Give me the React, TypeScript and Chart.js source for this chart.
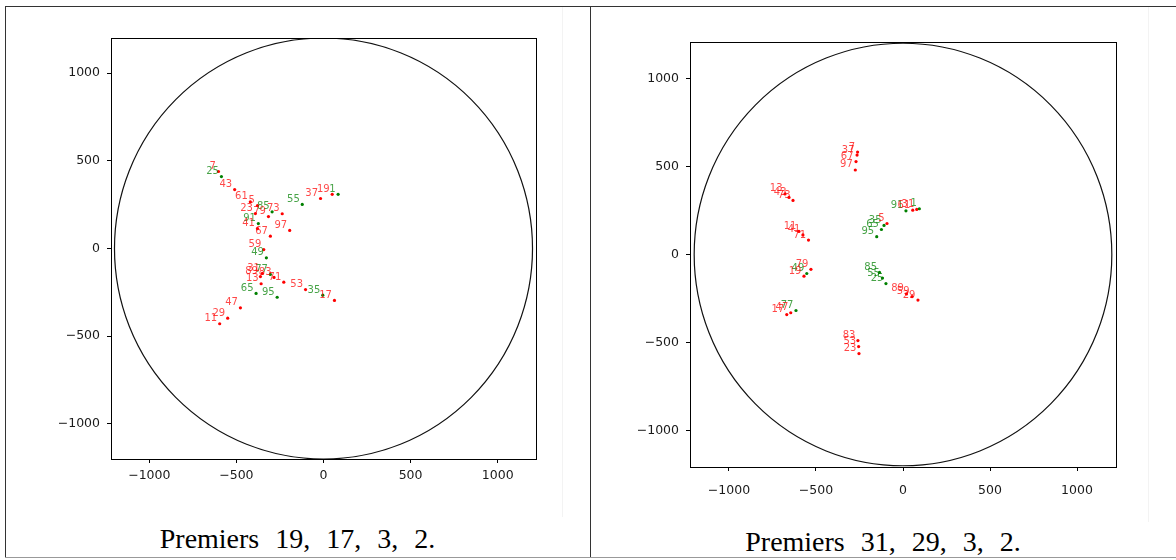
import React, { useEffect, useRef } from "react";
import { Chart, registerables } from "chart.js";

Chart.register(...registerables);

// ---------- shared ----------
const CIRCLE_RADIUS = 1200;
const tickValues = [-1000, -500, 0, 500, 1000];
const captionLeft = "Premiers 19, 17, 3, 2.";
const captionRight = "Premiers 31, 29, 3, 2.";

// ---------- left panel (primes 19, 17, 3, 2) ----------
const leftPrimeLabels = [5, 7, 11, 13, 17, 19, 23, 29, 31, 37, 41, 43, 47, 53, 59, 61, 67, 71, 73, 79, 83, 89, 97];
const leftPrimeX = [-379, -603, -596, -358, 63, 50, -391, -550, -351, -17, -379, -510, -477, -103, -343, -420, -305, -228, -237, -316, -284, -362, -194];
const leftPrimeY = [245, 439, -429, -201, -296, 309, 199, -397, -142, 285, 114, 336, -338, -234, -6, 266, 70, -192, 198, 182, -165, -160, 103];
const leftOtherLabels = [1, 25, 35, 49, 55, 65, 77, 85, 91, 95];
const leftOtherX = [84, -586, -4, -328, -122, -387, -305, -295, -374, -266];
const leftOtherY = [309, 410, -266, -53, 251, -256, -148, 209, 142, -278];

// ---------- right panel (primes 31, 29, 3, 2) ----------
const rightPrimeLabels = [5, 7, 11, 13, 17, 19, 23, 29, 31, 37, 41, 43, 47, 53, 59, 61, 67, 71, 73, 79, 83, 89, 97];
const rightPrimeX = [-92, -261, -598, -678, -668, -569, -253, 86, 79, -264, -575, -655, -645, -255, 52, 56, -270, -543, -632, -529, -259, 20, -274];
const rightPrimeY = [176, 582, 131, 344, -341, -123, -563, -259, 256, 565, 111, 324, -331, -523, -239, 252, 528, 82, 307, -84, -489, -224, 480];
const rightOtherLabels = [1, 25, 35, 49, 55, 65, 77, 85, 91, 95];
const rightOtherX = [94, -98, -109, -553, -118, -124, -615, -135, 17, -151];
const rightOtherY = [260, -165, 165, -108, -134, 142, -318, -102, 248, 101];

function fmtTick(v: number): string {
  return v < 0 ? "\u2212" + Math.abs(v) : String(v);
}

function toPoints(xs: number[], ys: number[]) {
  return xs.map((x, i) => ({ x, y: ys[i] }));
}

const decorPlugin = {
  id: "decor",
  beforeDatasetsDraw(chart: any) {
    const { ctx, chartArea, scales } = chart;
    const xs = scales.x;
    const ys = scales.y;
    const cx = xs.getPixelForValue(0);
    const cy = ys.getPixelForValue(0);
    const rx = xs.getPixelForValue(CIRCLE_RADIUS) - cx;
    const ry = cy - ys.getPixelForValue(CIRCLE_RADIUS);
    ctx.save();
    ctx.beginPath();
    ctx.rect(chartArea.left, chartArea.top, chartArea.right - chartArea.left, chartArea.bottom - chartArea.top);
    ctx.clip();
    ctx.beginPath();
    ctx.ellipse(cx, cy, rx, ry, 0, 0, Math.PI * 2);
    ctx.lineWidth = 1.2;
    ctx.strokeStyle = "#111";
    ctx.stroke();
    ctx.restore();
  },
  afterDatasetsDraw(chart: any) {
    const { ctx, chartArea } = chart;
    ctx.save();
    chart.data.datasets.forEach((ds: any, di: number) => {
      const meta = chart.getDatasetMeta(di);
      ctx.font = `${ds.labelSize}px 'DejaVu Sans'`;
      ctx.fillStyle = ds.labelColor;
      ctx.textAlign = "right";
      ctx.textBaseline = "alphabetic";
      meta.data.forEach((el: any, i: number) => {
        ctx.fillText(String(ds.pointLabels[i]), el.x - 2.5, el.y - 2.5);
      });
    });
    ctx.strokeStyle = "#000";
    ctx.lineWidth = 1;
    ctx.strokeRect(
      Math.round(chartArea.left) + 0.5,
      Math.round(chartArea.top) + 0.5,
      Math.round(chartArea.right - chartArea.left),
      Math.round(chartArea.bottom - chartArea.top)
    );
    ctx.restore();
  },
};

type PanelCfg = {
  left: number;
  top: number;
  width: number;
  height: number;
  padTop: number;
  padRight: number;
  padBottom: number;
  yAxisWidth: number;
  xAxisHeight: number;
  xLim: number;
  yLim: number;
  xTickPad: number;
  yTickPad: number;
  labelSize: number;
  primeLabels: number[];
  primeX: number[];
  primeY: number[];
  otherLabels: number[];
  otherX: number[];
  otherY: number[];
};

function axis(lim: number, fitKey: "width" | "height", fitVal: number, pad: number) {
  return {
    type: "linear" as const,
    min: -lim,
    max: lim,
    afterBuildTicks: (s: any) => {
      s.ticks = tickValues.map((v) => ({ value: v }));
    },
    afterFit: (s: any) => {
      s[fitKey] = fitVal;
    },
    grid: {
      drawOnChartArea: false,
      drawTicks: true,
      tickLength: 4,
      color: "#000",
      lineWidth: 1,
    },
    border: { display: true, color: "#000", width: 1 },
    ticks: {
      font: { family: "'DejaVu Sans'", size: 12.5 },
      color: "#1a1a1a",
      padding: pad,
      maxRotation: 0,
      autoSkip: false,
      callback: (v: any) => fmtTick(Number(v)),
    },
  };
}

function ScatterPanel({ cfg }: { cfg: PanelCfg }) {
  const ref = useRef<HTMLCanvasElement | null>(null);
  useEffect(() => {
    if (!ref.current) return;
    const chart = new Chart(ref.current, {
      type: "scatter",
      data: {
        datasets: [
          {
            label: "composés",
            data: toPoints(cfg.otherX, cfg.otherY),
            pointRadius: 1.6,
            pointBorderWidth: 0,
            pointBackgroundColor: "#008000",
            pointLabels: cfg.otherLabels,
            labelColor: "rgba(0,128,0,0.72)",
            labelSize: cfg.labelSize,
          } as any,
          {
            label: "premiers",
            data: toPoints(cfg.primeX, cfg.primeY),
            pointRadius: 1.6,
            pointBorderWidth: 0,
            pointBackgroundColor: "#ff0000",
            pointLabels: cfg.primeLabels,
            labelColor: "rgba(255,0,0,0.72)",
            labelSize: cfg.labelSize,
          } as any,
        ],
      },
      options: {
        responsive: false,
        animation: false,
        events: [],
        layout: {
          padding: { left: 0, top: cfg.padTop, right: cfg.padRight, bottom: cfg.padBottom },
        },
        plugins: {
          legend: { display: false },
          tooltip: { enabled: false },
        },
        scales: {
          x: axis(cfg.xLim, "height", cfg.xAxisHeight, cfg.xTickPad) as any,
          y: axis(cfg.yLim, "width", cfg.yAxisWidth, cfg.yTickPad) as any,
        },
      },
      plugins: [decorPlugin],
    });
    return () => chart.destroy();
  }, [cfg]);
  return (
    <canvas
      ref={ref}
      width={cfg.width}
      height={cfg.height}
      style={{ position: "absolute", left: cfg.left, top: cfg.top, width: cfg.width, height: cfg.height }}
    />
  );
}

const leftCfg: PanelCfg = {
  left: 20,
  top: 20,
  width: 560,
  height: 490,
  padTop: 18,
  padRight: 44,
  padBottom: 21,
  yAxisWidth: 91,
  xAxisHeight: 30,
  xLim: 1220,
  yLim: 1200,
  xTickPad: 5,
  yTickPad: 7,
  labelSize: 10,
  primeLabels: leftPrimeLabels,
  primeX: leftPrimeX,
  primeY: leftPrimeY,
  otherLabels: leftOtherLabels,
  otherX: leftOtherX,
  otherY: leftOtherY,
};

const rightCfg: PanelCfg = {
  left: 600,
  top: 20,
  width: 560,
  height: 500,
  padTop: 22,
  padRight: 44,
  padBottom: 23,
  yAxisWidth: 90,
  xAxisHeight: 30,
  xLim: 1224,
  yLim: 1207,
  xTickPad: 12,
  yTickPad: 7,
  labelSize: 10,
  primeLabels: rightPrimeLabels,
  primeX: rightPrimeX,
  primeY: rightPrimeY,
  otherLabels: rightOtherLabels,
  otherX: rightOtherX,
  otherY: rightOtherY,
};

const line = (l: number, t: number, w: number, h: number, c: string) => (
  <div style={{ position: "absolute", left: l, top: t, width: w, height: h, background: c }} />
);

const captionStyle: React.CSSProperties = {
  position: "absolute",
  textAlign: "center",
  fontFamily: "'Liberation Serif', serif",
  fontSize: 28,
  lineHeight: "28px",
  wordSpacing: 9,
  color: "#000",
  whiteSpace: "nowrap",
};

export default function App() {
  return (
    <div style={{ position: "absolute", left: 0, top: 0, width: 1176, height: 560, background: "#fff", overflow: "hidden" }}>
      {line(5, 6, 1171, 1, "#333")}
      {line(5, 6, 1, 552, "#333")}
      {line(590, 6, 1, 552, "#333")}
      {line(5, 557, 1171, 1, "#999")}
      {line(562, 7, 1, 510, "#f3f3f3")}
      {line(1148, 7, 1, 515, "#f3f3f3")}
      <ScatterPanel cfg={leftCfg} />
      <ScatterPanel cfg={rightCfg} />
      <div style={{ ...captionStyle, left: 5, width: 585, top: 525 }}>{captionLeft}</div>
      <div style={{ ...captionStyle, left: 590, width: 586, top: 528 }}>{captionRight}</div>
    </div>
  );
}
